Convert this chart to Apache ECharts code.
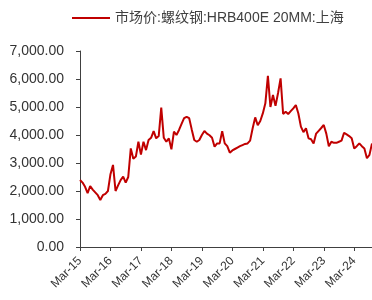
<!DOCTYPE html>
<html>
<head>
<meta charset="utf-8">
<script src="https://cdn.jsdelivr.net/npm/echarts@6/dist/echarts.min.js"></script>
<style>
html,body{margin:0;padding:0;background:#fff;}
#chart{width:372px;height:300px;}
</style>
</head>
<body>
<div id="chart"></div>
<script>
const seriesName = '市场价:螺纹钢:HRB400E 20MM:上海';
const monthNames = ['Jan','Feb','Mar','Apr','May','Jun','Jul','Aug','Sep','Oct','Nov','Dec'];
// Monthly, Mar-2015 .. Oct-2024
const startYear = 2015, startMonth = 2, monthCount = 116;
const categories = [];
for (let i = 0; i < monthCount; i++) {
  const m = (startMonth + i) % 12;
  const y = startYear + Math.floor((startMonth + i) / 12);
  categories.push(monthNames[m] + '-' + String(y).slice(2));
}
const values = [
  2390, 2300, 2150, 1920, 2180, 2050, 1950, 1850, 1680, 1850,
  1900, 2000, 2600, 2930, 2000, 2200, 2390, 2510, 2300, 2500,
  3520, 3150, 3230, 3760, 3300, 3760, 3460, 3820, 3900, 4140,
  3880, 3960, 4980, 3900, 3760, 3880, 3490, 4120, 4000, 4180,
  4400, 4600, 4650, 4600, 4200, 3820, 3760, 3820, 4000, 4140,
  4050, 3990, 3900, 3580, 3700, 3700, 4140, 3700, 3600, 3370,
  3450, 3500, 3550, 3600, 3640, 3680, 3700, 3800, 4240, 4630,
  4350, 4500, 4770, 5130, 6110, 5000, 5430, 5040, 5500, 6020,
  4750, 4830, 4750, 4850, 4950, 5070, 4770, 4300, 4100, 4240,
  3880, 3850, 3700, 4050, 4150, 4250, 4360, 4050, 3600, 3760,
  3720, 3720, 3760, 3800, 4080, 4020, 3960, 3880, 3520, 3600,
  3700, 3600, 3520, 3170, 3290, 3700
];
const yMin = 0, yMax = 7000, yInterval = 1000;

function fmt(v) {
  const s = v.toFixed(2);
  const parts = s.split('.');
  parts[0] = parts[0].replace(/\B(?=(\d{3})+(?!\d))/g, ',');
  return parts.join('.');
}

const chart = echarts.init(document.getElementById('chart'), null, {renderer: 'canvas'});
chart.setOption({
  animation: false,
  backgroundColor: '#fff',
  legend: {
    left: 67, top: 6,
    icon: 'rect', itemWidth: 38, itemHeight: 2, itemGap: 10,
    textStyle: {fontFamily: 'Liberation Sans, Noto Sans CJK SC', fontSize: 14, color: '#404040'},
    data: [seriesName]
  },
  grid: {left: 80, right: 0, top: 51, bottom: 53, containLabel: false},
  xAxis: {
    type: 'category', data: categories, boundaryGap: false,
    axisLine: {lineStyle: {color: '#404040', width: 1}},
    axisTick: {show: true, interval: 11, length: 4, lineStyle: {color: '#404040'}},
    axisLabel: {interval: 11, rotate: 45, fontSize: 12, color: '#333', margin: 12,
      fontFamily: 'Liberation Sans'},
    splitLine: {show: false}
  },
  yAxis: {
    type: 'value', min: yMin, max: yMax, interval: yInterval,
    axisLine: {show: true, lineStyle: {color: '#404040', width: 1}},
    axisTick: {show: true, length: 4, lineStyle: {color: '#404040'}},
    axisLabel: {formatter: fmt, fontSize: 14, color: '#333', margin: 16,
      fontFamily: 'Liberation Sans'},
    splitLine: {show: false}
  },
  series: [{
    name: seriesName, type: 'line', data: values,
    showSymbol: false, symbol: 'none',
    lineStyle: {color: '#C00000', width: 2},
    itemStyle: {color: '#C00000'}
  }]
});
</script>
</body>
</html>
